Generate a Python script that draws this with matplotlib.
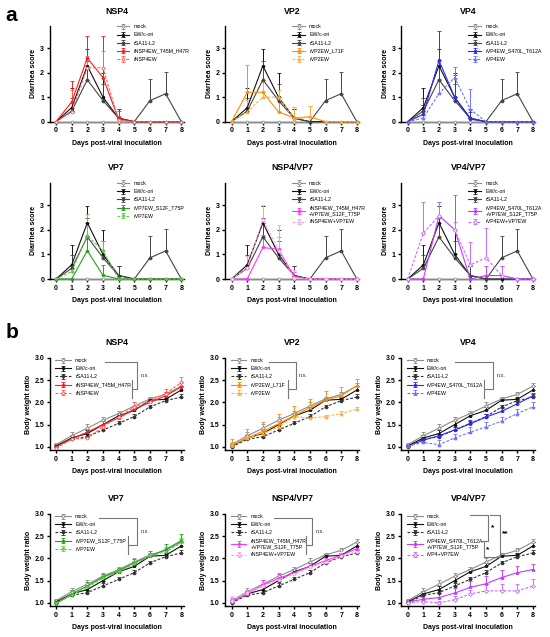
import matplotlib.pyplot as plt
import numpy as np

plt.rcParams['font.family'] = ['Liberation Sans', 'DejaVu Sans']

days = np.arange(9)

# ---- diarrhea scores (panel a) ----
mock_score = [0, 0, 0, 0, 0, 0, 0, 0, 0]
ewcori_score = [0, 0.57, 2.28, 1.0, 0.14, 0, 0, 0, 0]
ewcori_score_err = [0, 0.8, 0.7, 1.0, 0.38, 0, 0, 0, 0]
rsa11_score = [0, 0.43, 1.71, 0.86, 0.14, 0, 0.86, 1.14, 0]
rsa11_score_err = [0, 0.53, 0.76, 0.69, 0.38, 0, 0.9, 0.9, 0]

nsp4_mut_score = [0, 0.8, 2.6, 1.8, 0.1, 0, 0, 0, 0]
nsp4_mut_score_err = [0, 0.85, 0.9, 1.7, 0.35, 0, 0, 0, 0]
nsp4_ew_score = [0, 0.4, 2.2, 2.2, 0.05, 0, 0, 0, 0]
nsp4_ew_score_err = [0, 0.9, 0.5, 0.7, 0.2, 0, 0, 0, 0]

vp2_mut_score = [0, 1.2, 1.2, 0.4, 0.15, 0.2, 0, 0, 0]
vp2_mut_score_err = [0, 1.1, 0.5, 0.5, 0.45, 0.45, 0, 0, 0]
vp2_ew_score = [0, 0.4, 1.0, 1.0, 0.1, 0.2, 0, 0, 0]
vp2_ew_score_err = [0, 0.5, 0.6, 0.3, 0.5, 0.45, 0, 0, 0]

vp4_mut_score = [0, 0.3, 2.5, 1.0, 0.1, 0, 0, 0, 0]
vp4_mut_score_err = [0, 0.4, 1.2, 0.9, 0.3, 0, 0, 0, 0]
vp4_ew_score = [0, 0.15, 1.15, 1.8, 0.5, 0, 0, 0, 0]
vp4_ew_score_err = [0, 0.3, 0.6, 0.45, 0.85, 0, 0, 0, 0]

vp7_mut_score = [0, 0, 1.15, 0.15, 0, 0, 0, 0, 0]
vp7_mut_score_err = [0, 0, 0.6, 0.4, 0, 0, 0, 0, 0]
vp7_ew_score = [0, 0.3, 1.75, 1.15, 0, 0, 0, 0, 0]
vp7_ew_score_err = [0, 0.3, 0.9, 0.4, 0, 0, 0, 0, 0]

nsp4vp7_mut_score = [0, 0, 1.28, 1.2, 0.1, 0, 0, 0, 0]
nsp4vp7_mut_score_err = [0, 0, 0.5, 0.5, 0.2, 0, 0, 0, 0]
nsp4vp7_ew_score = [0, 0.45, 2.4, 1.15, 0.05, 0, 0, 0, 0]
nsp4vp7_ew_score_err = [0, 0.5, 0.6, 1.05, 0.3, 0, 0, 0, 0]

vp4vp7_mut_score = [0, 0, 2.57, 2.0, 0, 0.14, 0.14, 0, 0]
vp4vp7_mut_score_err = [0, 0, 0.55, 1.4, 0, 0.4, 0.4, 0, 0]
vp4vp7_ew_score = [0, 1.86, 2.57, 2.0, 0.57, 0.86, 0.14, 0, 0]
vp4vp7_ew_score_err = [0, 1.25, 0.55, 0.3, 0.95, 1.2, 0.4, 0, 0]

# ---- body weight ratio (panel b) ----
mock_weight = [1.05, 1.25, 1.42, 1.6, 1.75, 1.92, 2.08, 2.18, 2.37]
mock_weight_err = [0.04, 0.09, 0.1, 0.08, 0.05, 0.1, 0.04, 0.05, 0.06]
ewcori_weight = [1.02, 1.2, 1.3, 1.5, 1.7, 1.82, 2.05, 2.07, 2.28]
ewcori_weight_err = [0.04, 0.06, 0.08, 0.1, 0.07, 0.08, 0.05, 0.06, 0.08]
rsa11_weight = [1.0, 1.17, 1.23, 1.38, 1.53, 1.68, 1.9, 2.04, 2.12]
rsa11_weight_err = [0.03, 0.04, 0.05, 0.06, 0.06, 0.06, 0.05, 0.05, 0.06]

nsp4_mut_weight = [1.0, 1.18, 1.33, 1.5, 1.65, 1.85, 2.0, 2.15, 2.35]
nsp4_mut_weight_err = [0.04, 0.06, 0.08, 0.08, 0.07, 0.08, 0.06, 0.08, 0.1]
nsp4_ew_weight = [0.98, 1.17, 1.2, 1.45, 1.68, 1.9, 2.02, 2.2, 2.45]
nsp4_ew_weight_err = [0.03, 0.04, 0.05, 0.07, 0.07, 0.1, 0.07, 0.1, 0.12]

vp2_mut_weight = [1.03, 1.2, 1.35, 1.52, 1.7, 1.88, 2.05, 2.15, 2.38]
vp2_mut_weight_err = [0.14, 0.2, 0.2, 0.22, 0.22, 0.2, 0.2, 0.2, 0.15]
vp2_ew_weight = [1.05, 1.2, 1.3, 1.45, 1.68, 1.65, 1.68, 1.75, 1.85]
vp2_ew_weight_err = [0.05, 0.08, 0.07, 0.1, 0.08, 0.05, 0.04, 0.06, 0.05]

vp4_mut_weight = [1.02, 1.15, 1.25, 1.38, 1.52, 1.67, 1.8, 1.97, 2.15]
vp4_mut_weight_err = [0.03, 0.05, 0.05, 0.07, 0.08, 0.07, 0.07, 0.06, 0.06]
vp4_ew_weight = [1.02, 1.1, 1.05, 1.2, 1.33, 1.45, 1.58, 1.75, 1.9]
vp4_ew_weight_err = [0.03, 0.08, 0.1, 0.1, 0.12, 0.12, 0.1, 0.1, 0.1]

vp7_mut_weight = [0.98, 1.2, 1.38, 1.58, 1.72, 1.9, 2.05, 2.2, 2.4]
vp7_mut_weight_err = [0.04, 0.08, 0.08, 0.08, 0.06, 0.08, 0.12, 0.12, 0.15]
vp7_ew_weight = [1.0, 1.18, 1.35, 1.55, 1.7, 1.88, 2.05, 2.15, 2.35]
vp7_ew_weight_err = [0.03, 0.06, 0.06, 0.07, 0.06, 0.07, 0.08, 0.1, 0.1]

nsp4vp7_mut_weight = [1.02, 1.2, 1.4, 1.55, 1.68, 1.82, 1.95, 2.07, 2.22]
nsp4vp7_mut_weight_err = [0.08, 0.08, 0.12, 0.1, 0.08, 0.08, 0.06, 0.06, 0.06]
nsp4vp7_ew_weight = [1.05, 1.22, 1.38, 1.52, 1.65, 1.8, 1.92, 2.05, 2.15]
nsp4vp7_ew_weight_err = [0.1, 0.08, 0.1, 0.1, 0.08, 0.08, 0.06, 0.07, 0.07]

vp4vp7_mut_weight = [1.02, 1.08, 1.12, 1.22, 1.35, 1.43, 1.57, 1.68, 1.75]
vp4vp7_mut_weight_err = [0.03, 0.06, 0.1, 0.12, 0.15, 0.18, 0.18, 0.15, 0.12]
vp4vp7_ew_weight = [1.0, 1.03, 1.0, 1.07, 1.2, 1.27, 1.27, 1.27, 1.38]
vp4vp7_ew_weight_err = [0.02, 0.04, 0.05, 0.08, 0.1, 0.15, 0.15, 0.15, 0.15]

titles = ["NSP4", "VP2", "VP4", "VP7", "NSP4/VP7", "VP4/VP7"]
mut_labels = ["rNSP4EW_T45M_H47R", "rVP2EW_L71F", "rVP4EW_S470L_T612A",
              "rVP7EW_S12F_T75P", "rNSP4EW_T45M_H47R\n+VP7EW_S12F_T75P",
              "rVP4EW_S470L_T612A\n+VP7EW_S12F_T75P"]
ew_labels_a = ["rNSP4EW", "rVP2EW", "rVP4EW", "rVP7EW", "rNSP4EW+VP7EW", "rVP4EW+VP7EW"]
ew_labels_b = ["rNSP4EW", "rVP2EW", "rVP4EW", "rVP7EW", "rNSP4EW+VP7EW", "rVP4+VP7EW"]

mut_colors = ["#ff1a1a", "#ff8c00", "#2a2aff", "#22a022", "#ff33ff", "#c43cff"]
ew_colors = ["#ff6060", "#ffb040", "#7070ff", "#66cc44", "#ff99ee", "#cc66ff"]
ew_markers = ["o", "^", "^", "v", "o", "D"]
ew_filled = [False, True, True, True, False, False]

mut_scores = [nsp4_mut_score, vp2_mut_score, vp4_mut_score, vp7_mut_score,
              nsp4vp7_mut_score, vp4vp7_mut_score]
mut_scores_err = [nsp4_mut_score_err, vp2_mut_score_err, vp4_mut_score_err,
                  vp7_mut_score_err, nsp4vp7_mut_score_err, vp4vp7_mut_score_err]
ew_scores = [nsp4_ew_score, vp2_ew_score, vp4_ew_score, vp7_ew_score,
             nsp4vp7_ew_score, vp4vp7_ew_score]
ew_scores_err = [nsp4_ew_score_err, vp2_ew_score_err, vp4_ew_score_err,
                 vp7_ew_score_err, nsp4vp7_ew_score_err, vp4vp7_ew_score_err]
mut_weights = [nsp4_mut_weight, vp2_mut_weight, vp4_mut_weight, vp7_mut_weight,
               nsp4vp7_mut_weight, vp4vp7_mut_weight]
mut_weights_err = [nsp4_mut_weight_err, vp2_mut_weight_err, vp4_mut_weight_err,
                   vp7_mut_weight_err, nsp4vp7_mut_weight_err, vp4vp7_mut_weight_err]
ew_weights = [nsp4_ew_weight, vp2_ew_weight, vp4_ew_weight, vp7_ew_weight,
              nsp4vp7_ew_weight, vp4vp7_ew_weight]
ew_weights_err = [nsp4_ew_weight_err, vp2_ew_weight_err, vp4_ew_weight_err,
                  vp7_ew_weight_err, nsp4vp7_ew_weight_err, vp4vp7_ew_weight_err]

# n.s. brackets for panel b (x_left, x_right, x_inner) in days
ns_brackets = [(3.14, 5.2, 4.85), (2.39, 4.1, 3.6), (3.0, 5.45, 4.86),
               (2.73, 5.2, 4.6), (2.68, 5.16, 4.73)]

DASH = (0, (2.5, 1.5))


def series(ax, y, err, color, marker, ls, filled, label, lw=0.8):
    up = np.array(err)
    ax.errorbar(days, y, yerr=[np.zeros_like(up), up], color=color, ls=ls, lw=lw,
                marker=marker, ms=2.0, mfc=color if filled else "white",
                mec=color, mew=0.6, elinewidth=0.7, capsize=1.2, capthick=0.7,
                label=label, clip_on=False, zorder=3)


def style_axes(ax, title, ylabel):
    ax.set_xlim(-0.4, 8.15)
    ax.set_xticks(days)
    for s in ["top", "right"]:
        ax.spines[s].set_visible(False)
    for s in ["left", "bottom"]:
        ax.spines[s].set_linewidth(1.0)
    ax.tick_params(direction="out", length=2.5, width=1.0, labelsize=5, pad=1.5)
    for lab in ax.get_xticklabels() + ax.get_yticklabels():
        lab.set_fontweight("bold")
    ax.set_title(title, fontsize=6.3, fontweight="bold", pad=9)
    ax.set_xlabel("Days post-viral inoculation", fontsize=5, fontweight="bold", labelpad=4)
    ax.set_ylabel(ylabel, fontsize=5, fontweight="bold", labelpad=2)


fig = plt.figure(figsize=(5.5, 6.37), dpi=100)

col_left = [0.0904, 0.4096, 0.7298]
col_w = 0.2435
row_a = [(0.809, 0.150), (0.562, 0.151)]
row_b = [(0.2936, 0.1444), (0.0487, 0.1444)]

for i in range(6):
    r, c = divmod(i, 3)
    # ---- panel a ----
    ax = fig.add_axes([col_left[c], row_a[r][0], col_w, row_a[r][1]])
    series(ax, mock_score, [0] * 9, "#8c8c8c", "o", "-", False, "mock")
    series(ax, ewcori_score, ewcori_score_err, "#111111", "s", "-", True, "EW/c-ori")
    series(ax, rsa11_score, rsa11_score_err, "#444444", "o", "-", True, "rSA11-L2")
    series(ax, mut_scores[i], mut_scores_err[i], mut_colors[i], "s", "-", True, mut_labels[i])
    series(ax, ew_scores[i], ew_scores_err[i], ew_colors[i], ew_markers[i], DASH,
           ew_filled[i], ew_labels_a[i])
    ax.set_ylim(0, 3.9)
    ax.set_yticks([0, 1, 2, 3])
    style_axes(ax, titles[i], "Diarrhea score")
    h, l = ax.get_legend_handles_labels()
    ax.legend(h, l, loc="upper left", bbox_to_anchor=(0.5, 1.02), frameon=False,
              fontsize=3.8, handlelength=2.4, handletextpad=0.8, labelspacing=0.6,
              borderpad=0, borderaxespad=0)

    # ---- panel b ----
    ax = fig.add_axes([col_left[c], row_b[r][0], col_w, row_b[r][1]])
    series(ax, mock_weight, mock_weight_err, "#8c8c8c", "o", "-", False, "mock")
    series(ax, ewcori_weight, ewcori_weight_err, "#111111", "s", "-", True, "EW/c-ori")
    series(ax, rsa11_weight, rsa11_weight_err, "#333333", "o", DASH, True, "rSA11-L2")
    series(ax, mut_weights[i], mut_weights_err[i], mut_colors[i], "s", "-", True, mut_labels[i])
    series(ax, ew_weights[i], ew_weights_err[i], ew_colors[i], ew_markers[i], DASH,
           ew_filled[i], ew_labels_b[i])
    ax.set_ylim(0.93, 3.0)
    ax.set_yticks([1.0, 1.5, 2.0, 2.5, 3.0])
    ax.set_yticklabels(["1.0", "1.5", "2.0", "2.5", "3.0"])
    style_axes(ax, titles[i], "Body weight ratio")
    h, l = ax.get_legend_handles_labels()
    ax.legend(h, l, loc="upper left", bbox_to_anchor=(0.04, 1.0), frameon=False,
              fontsize=3.8, handlelength=3.0, handletextpad=0.8, labelspacing=0.6,
              borderpad=0, borderaxespad=0)

    bk = dict(color="#777777", lw=0.8, clip_on=False, zorder=5)
    if i < 5:
        xl, xr, xi = ns_brackets[i]
        ax.plot([xl, xr, xr, xi], [2.92, 2.92, 2.3, 2.3], **bk)
        ax.plot([xi, xi], [2.5, 2.1], **bk)
        ax.text(xr + 0.2, 2.6, "n.s.", fontsize=4, color="#333333", va="center")
    else:
        ax.plot([4.0, 5.14, 5.14, 4.9], [2.98, 2.98, 2.4, 2.4], **bk)
        ax.plot([5.25, 5.87, 5.87, 4.9], [2.98, 2.98, 2.03, 2.03], **bk)
        ax.plot([4.72, 4.9, 4.9], [2.4, 2.4, 2.03], **bk)
        ax.text(5.3, 2.69, "*", fontsize=6, fontweight="bold", va="center")
        ax.text(6.05, 2.55, "**", fontsize=6, fontweight="bold", va="center")
        ax.text(5.0, 2.2, "*", fontsize=6, fontweight="bold", va="center")

fig.text(0.01, 0.975, "a", fontsize=15, fontweight="bold", va="center")
fig.text(0.01, 0.478, "b", fontsize=15, fontweight="bold", va="center")

fig.savefig("out.png", dpi=100)
